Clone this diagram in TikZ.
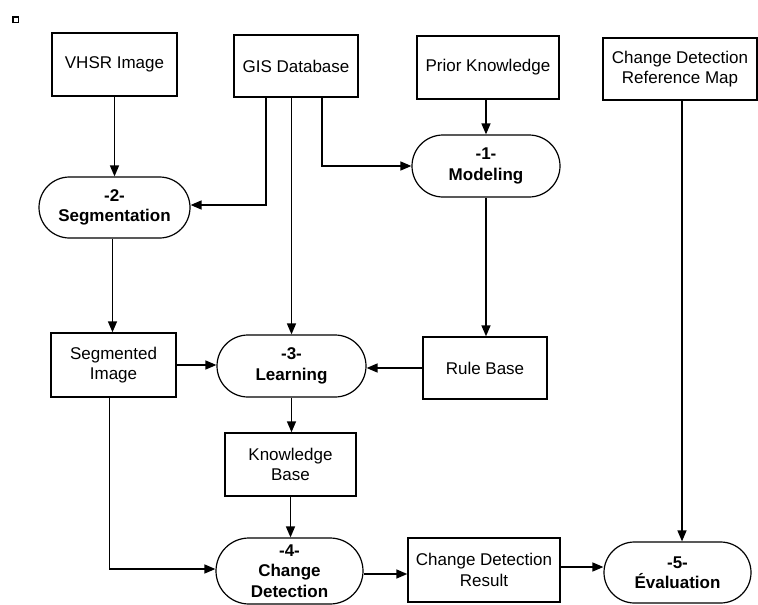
\documentclass[tikz,border=0pt]{standalone}
\usepackage{fontspec}
\setmainfont{Liberation Sans}
\usetikzlibrary{arrows.meta,shapes.misc}
\begin{document}
\begin{tikzpicture}[x=1pt,y=-1pt,
  every node/.style={font=\fontsize{17}{20.5}\selectfont, align=center, inner sep=0pt},
  boxnode/.style={draw, line width=1.4pt, rectangle},
  stadium/.style={draw, line width=1.2pt, rounded rectangle, font=\fontsize{17}{20.5}\selectfont\bfseries},
  conn/.style={line width=1.5pt, -{Triangle[length=11pt,width=9pt]}}
]
\useasboundingbox (0,0) rectangle (758,605);
\node[draw, line width=1.5pt, minimum width=5.5pt, minimum height=5.5pt] (sq) at (15.5,19.5) {};
\node[boxnode, minimum width=125pt, minimum height=63pt] (vhsr) at (114.5,64.5) {VHSR Image};
\node[boxnode, minimum width=124pt, minimum height=62pt] (gis) at (296,66) {GIS Database};
\node[boxnode, minimum width=142pt, minimum height=63pt] (prior) at (488,67.5) {Prior Knowledge};
\node[boxnode, minimum width=154pt, minimum height=62pt] (ref) at (680,69) {Change Detection\\Reference Map};
\node[stadium, minimum width=151pt, minimum height=61pt] (seg) at (114.5,207.5) {-2-\\Segmentation};
\node[stadium, minimum width=148pt, minimum height=62pt] (model) at (486,166) {-1-\\Modeling};
\node[boxnode, minimum width=125pt, minimum height=64pt] (segimg) at (113.5,365) {Segmented\\Image};
\node[stadium, minimum width=149pt, minimum height=62pt] (learn) at (291.5,366) {-3-\\Learning};
\node[boxnode, minimum width=124pt, minimum height=62pt] (rule) at (485,368) {Rule Base};
\node[boxnode, minimum width=131pt, minimum height=63pt] (kb) at (290.5,464.5) {Knowledge\\Base};
\node[stadium, minimum width=147pt, minimum height=66pt] (cd) at (289.5,571) {-4-\\Change\\Detection};
\node[boxnode, minimum width=152pt, minimum height=64pt] (cdr) at (484,570) {Change Detection\\Result};
\node[stadium, minimum width=147pt, minimum height=61pt] (eval) at (677.5,572.5) {-5-\\Évaluation};

\draw[conn] (vhsr.south) -- (vhsr.south |- seg.north);
\draw[conn] ([xshift=-30pt]gis.south) |- ([yshift=2.5pt]seg.east);
\draw[conn] (learn.north |- gis.south) -- (learn.north);
\draw[conn] ([xshift=26pt]gis.south) |- (model.west);
\draw[conn] (model.north |- prior.south) -- (model.north);
\draw[conn] (model.south) -- (model.south |- rule.north);
\draw[conn] ([xshift=-2pt]seg.south) -- ([xshift=-2pt]seg.south |- segimg.north);
\draw[conn] (segimg.east) -- (segimg.east -| learn.west);
\draw[conn] (rule.west) -- (rule.west -| learn.east);
\draw[conn] (learn.south) -- (learn.south |- kb.north);
\draw[conn] (kb.south) -- (kb.south |- cd.north);
\draw[conn] ([xshift=-4pt]segimg.south) |- ([yshift=2pt]cd.west);
\draw[conn] ([yshift=-3pt]cd.east) -- ([yshift=-3pt]cd.east -| cdr.west);
\draw[conn] ([yshift=3pt]cdr.east) -- ([yshift=3pt]cdr.east -| eval.west);
\draw[conn] ([xshift=2pt]ref.south) -- ([xshift=2pt]ref.south |- eval.north);
\end{tikzpicture}
\end{document}
